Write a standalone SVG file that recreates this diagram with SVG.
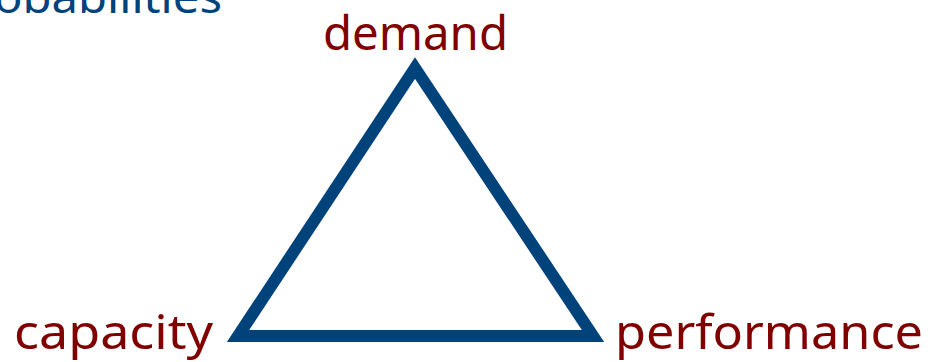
<svg xmlns="http://www.w3.org/2000/svg" width="933" height="362" viewBox="0 0 933 362">
<style>
.lbl{font-family:"Comic Sans MS","Noto Sans",sans-serif;font-size:48px;fill:#800000}
.top{font-family:"Comic Sans MS","Noto Sans",sans-serif;font-size:44px;fill:#00427a}
.tri{fill:none;stroke:#00427a;stroke-width:12;stroke-linejoin:miter}
</style>
<rect width="933" height="362" fill="#ffffff"/>
<text class="top" x="-6" y="13" textLength="228" lengthAdjust="spacingAndGlyphs">obabilities</text>
<g id="connectors">
<polygon class="tri" points="415,68 593,336 238,336"/>
</g>
<g id="demand"><text class="lbl" x="323" y="50" textLength="185" lengthAdjust="spacingAndGlyphs">demand</text></g>
<g id="capacity"><text class="lbl" x="14" y="349" textLength="199" lengthAdjust="spacingAndGlyphs">capacity</text></g>
<g id="performance"><text class="lbl" x="615" y="349" textLength="308" lengthAdjust="spacingAndGlyphs">performance</text></g>
</svg>
